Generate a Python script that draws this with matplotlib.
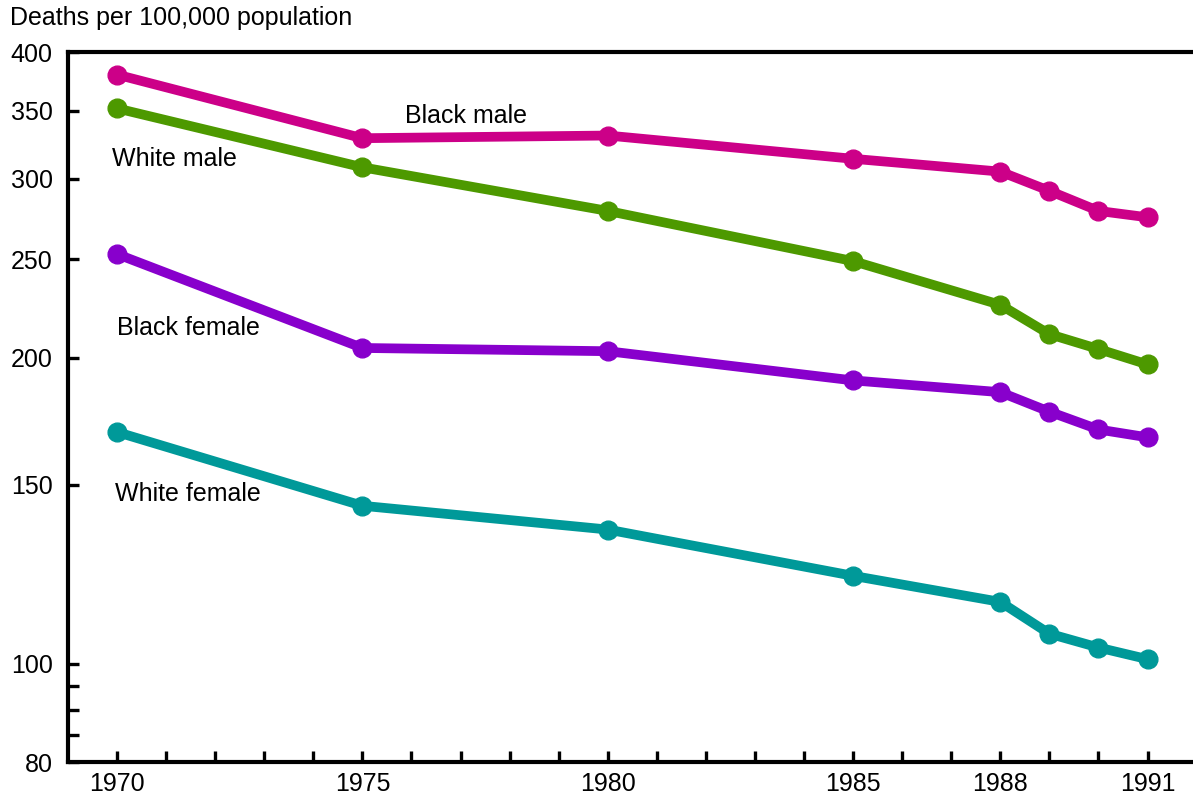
import matplotlib
matplotlib.use("Agg")
import matplotlib.pyplot as plt
from matplotlib.ticker import FixedLocator, NullFormatter

plt.rcParams['font.family'] = ['Liberation Sans', 'DejaVu Sans']

years = [1970, 1975, 1980, 1985, 1988, 1989, 1990, 1991]
black_male = [380, 329, 331, 314, 305, 292, 279, 275]
white_male = [352, 308, 279, 249, 225.5, 211, 204, 197]
black_female = [253, 204.5, 203, 190, 185, 177, 170, 167]
white_female = [169, 143, 135.5, 122, 115, 107, 103.7, 101]

series_names = ["Black male", "White male", "Black female", "White female"]
series_values = [black_male, white_male, black_female, white_female]
series_colors = ["#CC0088", "#4D9900", "#8800CC", "#009999"]
label_pos = [(1975.87, 346), (1969.9, 313.5), (1970.0, 214), (1969.96, 146.8)]

xtick_labels = [1970, 1975, 1980, 1985, 1988, 1991]
ytick_labels = [80, 100, 150, 200, 250, 300, 350, 400]
ytick_minor = [85, 90, 95]

fig = plt.figure(figsize=(11.93, 7.96), dpi=100)
ax = fig.add_axes([68/1193, 1-762/796, 1-68/1193+0.003, (762-52)/796])

for name, vals, col, (lx, ly) in zip(series_names, series_values, series_colors, label_pos):
    ax.plot(years, vals, color=col, lw=7.0, marker='o', markersize=13.5,
            solid_capstyle='round', solid_joinstyle='round', zorder=3)
    ax.text(lx, ly, name, fontsize=18, va='center', ha='left', color='black')

ax.set_yscale('log')
ax.set_ylim(80, 400)
ax.set_xlim(1969.0, 1992.0)
ax.yaxis.set_major_locator(FixedLocator(ytick_labels))
ax.yaxis.set_minor_locator(FixedLocator(ytick_minor))
ax.yaxis.set_minor_formatter(NullFormatter())
ax.set_yticklabels([str(v) for v in ytick_labels])
ax.xaxis.set_major_locator(FixedLocator(xtick_labels))
ax.xaxis.set_minor_locator(FixedLocator(list(range(1970, 1992))))
ax.set_xticklabels([str(v) for v in xtick_labels])

ax.tick_params(axis='both', which='both', direction='in', length=8, width=2.4,
               labelsize=18)
ax.tick_params(axis='y', which='both', pad=11)
ax.tick_params(axis='x', which='both', pad=7)

for side in ['left', 'bottom', 'top']:
    ax.spines[side].set_linewidth(3)
ax.spines['right'].set_visible(False)

fig.text(10/1193, 1-18/796, "Deaths per 100,000 population", fontsize=18,
         va='center', ha='left')

fig.savefig("out.png", dpi=100)
